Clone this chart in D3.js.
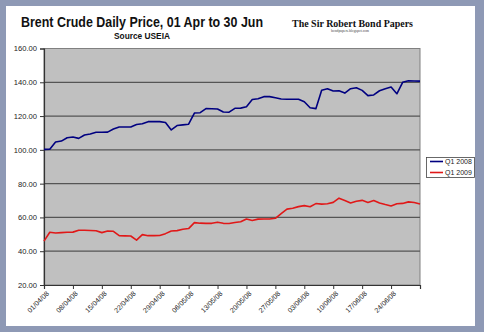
<!DOCTYPE html>
<html><head><meta charset="utf-8">
<script src="https://cdn.jsdelivr.net/npm/d3@7"></script>
<style>body{margin:0;background:#8e99b5;}svg{display:block;}</style>
</head><body>
<svg id="c" width="484" height="332"></svg>
<script>
const tickLabels = ["01/04/08","08/04/08","15/04/08","22/04/08","29/04/08","06/05/08","13/05/08","20/05/08","27/05/08","03/06/08","10/06/08","17/06/08","24/06/08"];
const seriesNames = ["Q1 2008","Q1 2009"];
const q2008 = [100.3,100.4,104.7,105.2,107.2,107.6,106.8,108.8,109.4,110.4,110.4,110.5,112.3,113.5,113.5,113.5,115.0,115.5,116.7,116.7,116.7,116.2,111.8,114.4,114.8,115.2,121.8,122.0,124.4,124.3,124.2,122.4,122.3,124.6,124.7,125.5,129.8,130.3,131.5,131.5,130.8,130.1,130.0,130.0,130.0,128.5,124.9,124.4,135.3,136.2,134.8,135.0,133.6,136.2,136.8,135.2,132.1,132.5,135.0,136.2,137.2,133.2,140.0,140.9,140.8,140.7];
const q2009 = [46.0,51.2,50.8,51.0,51.2,51.3,52.4,52.4,52.3,52.1,51.0,52.0,51.8,49.2,49.1,49.0,46.6,49.8,49.2,49.2,49.3,50.4,52.0,52.2,53.0,53.4,56.9,56.6,56.5,56.5,57.2,56.5,56.4,57.0,57.4,59.1,58.2,59.0,59.1,59.1,59.5,62.3,64.9,65.4,66.4,67.0,66.3,68.2,67.9,68.1,68.9,71.4,70.0,68.5,69.6,70.1,68.9,70.0,68.5,67.6,66.8,68.1,68.3,69.2,68.8,68.0];
const yTicks = [20,40,60,80,100,120,140,160];

const svg = d3.select("#c");
svg.append("rect").attr("x",6).attr("y",6).attr("width",469).attr("height",320).attr("fill","#ffffff");

const L=44, R=420, T=48.5, B=285;
const x = d3.scaleLinear().domain([0,q2008.length-1]).range([L,R]);
const y = d3.scaleLinear().domain([20,160]).range([B,T]);

svg.append("rect").attr("x",L).attr("y",T).attr("width",R-L).attr("height",B-T)
  .attr("fill","#c0c0c0").attr("stroke","#808080").attr("stroke-width",1);

// gridlines
svg.append("g").selectAll("line").data(yTicks.slice(1,-1)).join("line")
  .attr("x1",L).attr("x2",R).attr("y1",d=>y(d)).attr("y2",d=>y(d))
  .attr("stroke","#555555").attr("stroke-width",1.3);

// y axis
const ya = svg.append("g").attr("transform",`translate(${L},0)`)
  .call(d3.axisLeft(y).tickValues(yTicks).tickFormat(d3.format(".2f")).tickSize(4).tickPadding(3));
ya.select(".domain").attr("stroke","#333").attr("stroke-width",1.2);
ya.selectAll(".tick line").attr("stroke","#333");
ya.selectAll("text").attr("font-family","Liberation Sans, Arial, sans-serif").attr("font-size",7.6).attr("fill","#222");

// x axis
const tickIdx = tickLabels.map((d,i)=>i*5);
const xa = svg.append("g").attr("transform",`translate(0,${B})`)
  .call(d3.axisBottom(x).tickValues(tickIdx).tickFormat((d,i)=>tickLabels[i]).tickSize(4));
xa.select(".domain").attr("stroke","#333").attr("stroke-width",1.2);
xa.selectAll(".tick line").attr("stroke","#333");
xa.selectAll("text").attr("font-family","Liberation Sans, Arial, sans-serif").attr("font-size",7).attr("fill","#222")
  .attr("text-anchor","end").attr("dy",0).attr("transform","translate(0,4) rotate(-45)");

const line = d3.line().x((d,i)=>x(i)).y(d=>y(d));
const colors = ["#000080","#e01818"];
[q2008,q2009].forEach((s,k)=>{
  svg.append("path").datum(s).attr("d",line).attr("fill","none")
    .attr("stroke",colors[k]).attr("stroke-width",1.6).attr("stroke-linejoin","round");
});

// legend
const lg = svg.append("g");
lg.append("rect").attr("x",426.5).attr("y",157.5).attr("width",48).attr("height",20)
  .attr("fill","#fff").attr("stroke","#444").attr("stroke-width",0.8);
seriesNames.forEach((n,k)=>{
  const yy = 161.5 + k*11;
  lg.append("line").attr("x1",430).attr("x2",443).attr("y1",yy).attr("y2",yy).attr("stroke",colors[k]).attr("stroke-width",1.6);
  lg.append("text").attr("x",445).attr("y",yy+2.5).text(n)
    .attr("font-family","Liberation Sans, Arial, sans-serif").attr("font-size",7).attr("fill","#222");
});
// cover legend overflow beyond panel
svg.append("rect").attr("x",475).attr("y",0).attr("width",9).attr("height",332).attr("fill","#8e99b5");

// titles
svg.append("text").attr("x",21).attr("y",27).text("Brent Crude Daily Price, 01 Apr to 30 Jun")
  .attr("font-family","Liberation Sans, Arial, sans-serif").attr("font-weight","bold").attr("font-size",14)
  .attr("textLength",242).attr("lengthAdjust","spacingAndGlyphs").attr("fill","#111");
svg.append("text").attr("x",114).attr("y",39).text("Source USEIA")
  .attr("font-family","Liberation Sans, Arial, sans-serif").attr("font-weight","bold").attr("font-size",9.5)
  .attr("textLength",56).attr("lengthAdjust","spacingAndGlyphs").attr("fill","#111");
svg.append("text").attr("x",292).attr("y",26.5).text("The Sir Robert Bond Papers")
  .attr("font-family","Liberation Serif, Times New Roman, serif").attr("font-weight","bold").attr("font-size",10.5)
  .attr("textLength",121).attr("lengthAdjust","spacingAndGlyphs").attr("fill","#111");
svg.append("text").attr("x",331).attr("y",31.5).text("bondpapers.blogspot.com")
  .attr("font-family","Liberation Serif, Times New Roman, serif").attr("font-size",3.5)
  .attr("textLength",38).attr("lengthAdjust","spacingAndGlyphs").attr("fill","#444");
</script>
</body></html>
